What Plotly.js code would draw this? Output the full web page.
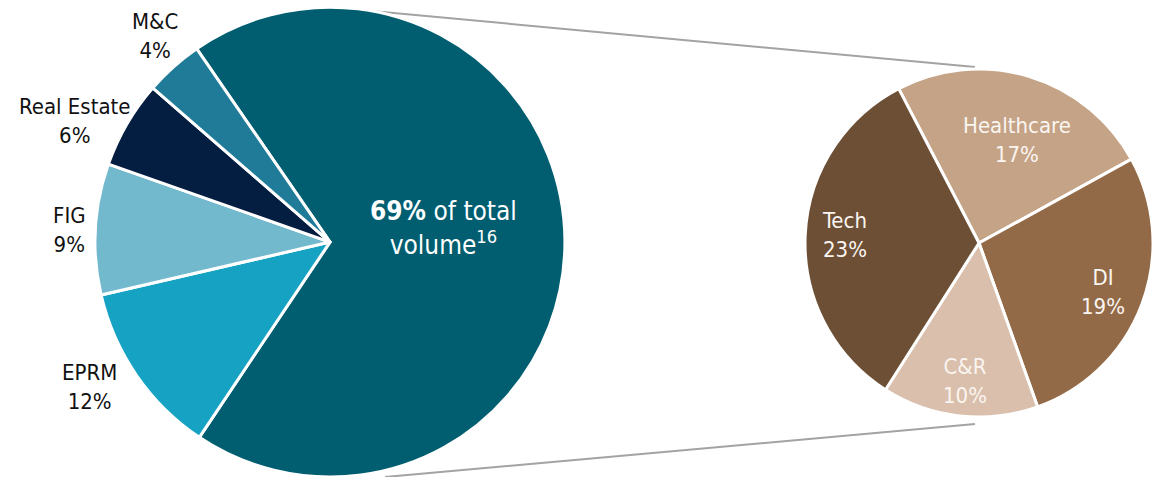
<!DOCTYPE html>
<html><head><meta charset="utf-8">
<script src="https://cdn.plot.ly/plotly-3.0.1.min.js"></script>
<style>html,body{margin:0;padding:0;background:#fff}#chart{width:1153px;height:477px}</style>
</head><body><div id="chart"></div>
<script>
// Total volume by sector
const bigLabels = ['Selected sectors', 'EPRM', 'FIG', 'Real Estate', 'M&C'];
const bigValues = [69, 12, 9, 6, 4];
// Breakdown of the 69% share
const smallLabels = ['Healthcare', 'DI', 'C&R', 'Tech'];
const smallValues = [17, 19, 10, 23];

const FONT = '"Liberation Sans Narrow", "Arial Narrow", "DejaVu Sans Condensed", sans-serif';
const W = 1153, H = 477;

// geometry / style
const bigGeom = {cx: 330, cy: 242, r: 235, rot: -34.6};
const smallGeom = {cx: 978, cy: 243, r: 174, rot: -27.5};
// label placement tweaks (radius factor, angle offset in degrees)
const bigLabelPos = [[0.485, -6.7], [1.193, 3.5], [1.108, -0.6], [1.2, -4.8], [1.15, 1.5]];
const smallLabelPos = [[0.633, 3.8], [0.772, 0.6], [0.797, -1.0], [0.766, 0.9]];

function labelAnnotations(labels, values, g, pos, textFn, font) {
  const total = values.reduce((a, b) => a + b, 0);
  let cum = 0;
  return labels.map((lab, i) => {
    const mid = g.rot + (cum + values[i] / 2) / total * 360 + pos[i][1];
    cum += values[i];
    const a = mid * Math.PI / 180;
    const px = g.cx + g.r * pos[i][0] * Math.sin(a);
    const py = g.cy - g.r * pos[i][0] * Math.cos(a);
    return {xref: 'paper', yref: 'paper', x: px / W, y: 1 - py / H, xanchor: 'center', yanchor: 'middle',
      showarrow: false, text: textFn(lab, values[i], i), font: font(i), align: 'center'};
  });
}

const big = {
  type: 'pie', labels: bigLabels, values: bigValues, sort: false,
  direction: 'clockwise', rotation: bigGeom.rot,
  domain: {x: [95/W, 565/W], y: [0, 0.985]},
  marker: {colors: ['#005E70', '#16A3C3', '#72B9CE', '#041E42', '#1F7B98'], line: {color: '#ffffff', width: 3}},
  textinfo: 'none', hoverinfo: 'label+value', showlegend: false
};

const small = {
  type: 'pie', labels: smallLabels, values: smallValues, sort: false,
  direction: 'clockwise', rotation: smallGeom.rot,
  domain: {x: [0.6982, 1.0], y: [0.1258, 0.8553]},
  marker: {colors: ['#C5A386', '#936A47', '#D9BFAC', '#6D4F35'], line: {color: '#ffffff', width: 3}},
  textinfo: 'none', hoverinfo: 'label+value', showlegend: false
};

const annotations = [].concat(
  labelAnnotations(bigLabels, bigValues, bigGeom, bigLabelPos,
    (l, v, i) => i === 0 ? `<b>${v}%</b> of total<br>volume<sup>16</sup>` : `${l}<br>${v}%`,
    i => ({family: FONT, size: i === 0 ? 26 : 22, color: i === 0 ? '#ffffff' : '#111111'})),
  labelAnnotations(smallLabels, smallValues, smallGeom, smallLabelPos,
    (l, v) => `${l}<br>${v}%`,
    () => ({family: FONT, size: 22, color: '#FAF5F0'}))
);

const layout = {
  width: W, height: H,
  margin: {l: 0, r: 0, t: 0, b: 0},
  paper_bgcolor: '#ffffff', plot_bgcolor: '#ffffff',
  font: {family: FONT},
  annotations: annotations,
  shapes: [
    {type: 'line', xref: 'paper', yref: 'paper', x0: 372/W, y0: 1 - 11/H, x1: 975/W, y1: 1 - 67/H, line: {color: '#A3A3A3', width: 2}, layer: 'below'},
    {type: 'line', xref: 'paper', yref: 'paper', x0: 385/W, y0: 0, x1: 975/W, y1: 1 - 424/H, line: {color: '#A3A3A3', width: 2}, layer: 'below'}
  ]
};

Plotly.newPlot('chart', [big, small], layout, {displayModeBar: false, staticPlot: true});
</script>
</body></html>
